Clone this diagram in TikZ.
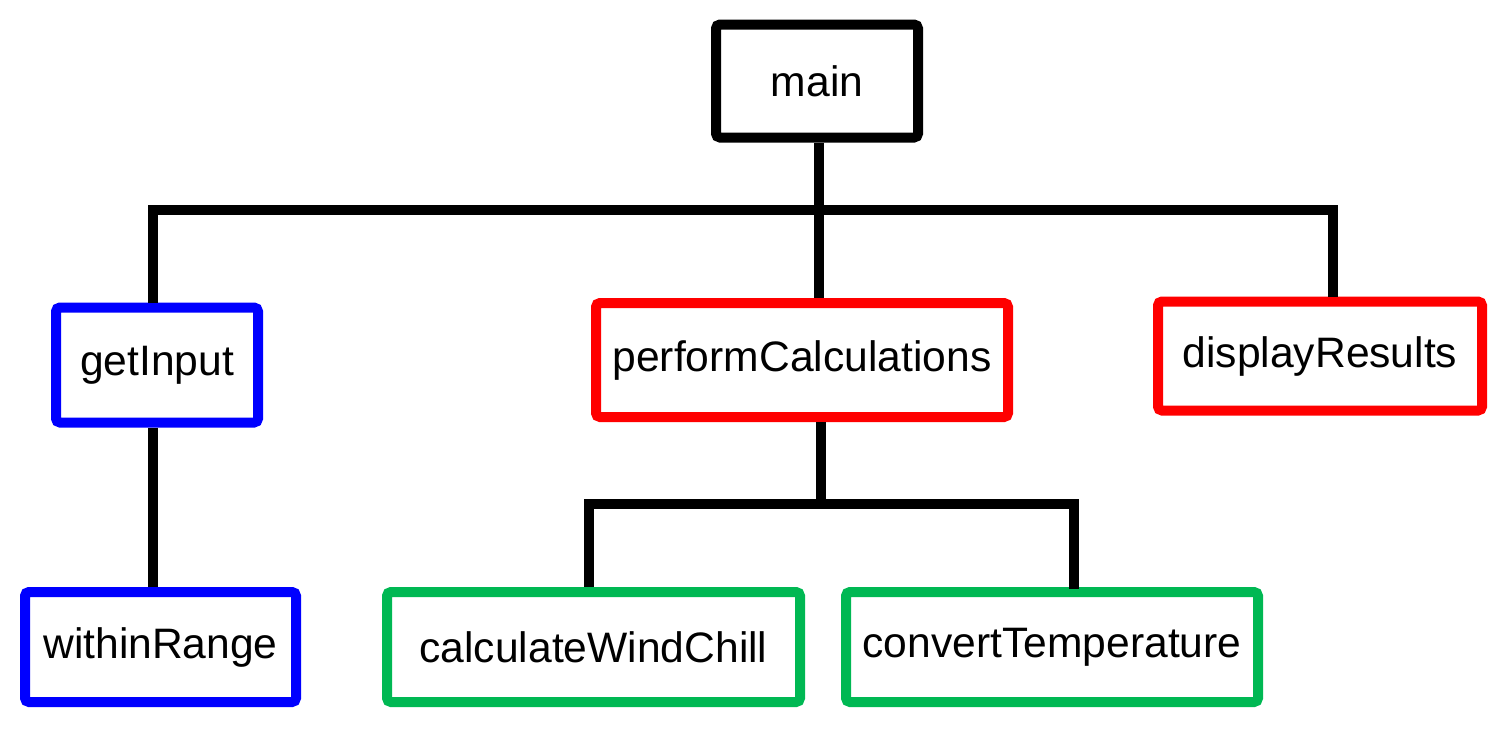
\documentclass[tikz,border=0pt]{standalone}
\usepackage{fontspec}
\setmainfont{Liberation Sans}
\definecolor{boxblue}{RGB}{0,0,255}
\definecolor{boxred}{RGB}{255,0,0}
\definecolor{boxgreen}{HTML}{00B853}
\begin{document}
\begin{tikzpicture}[x=0.5pt, y=-0.5pt]
      \tikzstyle{box}=[draw, line width=5pt, rounded corners=2pt, inner sep=0pt,
        font=\fontsize{21.3pt}{25pt}\selectfont]
      \tikzstyle{link}=[line width=5pt]
      \useasboundingbox (0,0) rectangle (1500,730);

      \path (817,81) node [box, minimum width=101pt, minimum height=56.5pt] (main) {main};

      \path (157,365) node [box, boxblue, text=black, minimum width=101pt, minimum height=57.5pt] (getinput) {getInput};
      \path (802,360) node [box, boxred, text=black, minimum width=206pt, minimum height=57pt] (perform) {performCalculations};
      \path (1320,356) node [box, boxred, text=black, minimum width=162pt, minimum height=54.5pt] (display) {displayResults};

      \path (160.5,647) node [box, boxblue, text=black, minimum width=135.5pt, minimum height=55pt] (within) {withinRange};
      \path (593.5,647) node [box, boxgreen, text=black, minimum width=206.5pt, minimum height=55pt] (windchill) {calculateWindChill};
      \path (1052,647) node [box, boxgreen, text=black, minimum width=206pt, minimum height=55pt] (convert) {convertTemperature};

      \coordinate (top) at (819,210);
      \coordinate (topleft) at (153,210);
      \coordinate (topright) at (1333,210);
      \coordinate (mid) at (821,504);
      \coordinate (midleft) at (589,504);
      \coordinate (midright) at (1074,504);

      \draw [link]
        (main.south -| top) -- (top)
        (top) -- (perform.north -| top)
        (topleft |- getinput.north) -- (topleft) -- (topright) -- (topright |- display.north);

      \draw [link]
        (getinput.south -| topleft) -- (topleft |- within.north);

      \draw [link]
        (perform.south -| mid) -- (mid)
        (midleft |- windchill.north) -- (midleft) -- (midright) -- ([yshift=-1pt]midright |- convert.north);
    \end{tikzpicture}
\end{document}
